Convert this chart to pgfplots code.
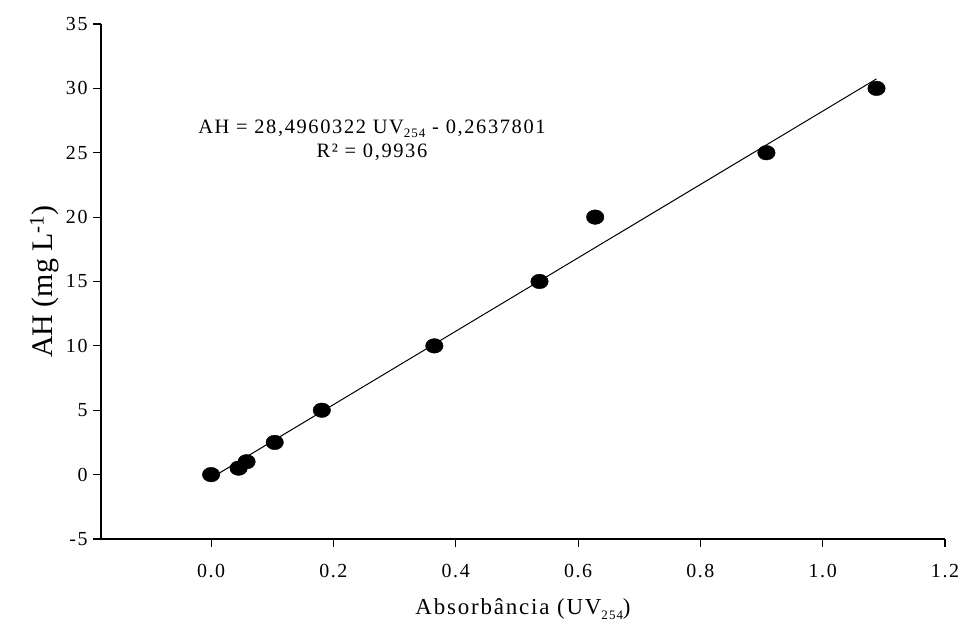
\documentclass[border=0pt]{standalone}
\usepackage{fontspec}
\setmainfont{Liberation Serif}
\newfontfamily\spaced{Liberation Serif}[LetterSpace=8]
\usepackage{pgfplots}
\pgfplotsset{compat=1.18}
\newcommand{\sub}[1]{\raisebox{-0.45ex}{\fontsize{13}{14}\selectfont #1}}
\begin{document}
\begin{tikzpicture}[x=1bp,y=1bp]
\useasboundingbox (0,0) rectangle (959,628);
\begin{axis}[
  at={(101bp,89bp)}, anchor=south west,
  width=844bp, height=515bp, scale only axis,
  xmin=-0.18, xmax=1.2, ymin=-5, ymax=35,
  axis x line*=bottom, axis y line*=left,
  axis line style={-, line width=1.3bp},
  tick align=outside, major tick length=8bp,
  tick style={black, line width=1.1bp},
  xtick={0,0.2,0.4,0.6,0.8,1.0,1.2},
  ytick={-5,0,5,10,15,20,25,30,35},
  /pgf/number format/assume math mode=true,
  x tick label style={/pgf/number format/.cd, fixed, fixed zerofill, precision=1, /tikz/.cd, font=\spaced\fontsize{20}{22}\selectfont, yshift=-14bp},
  y tick label style={font=\spaced\fontsize{20}{22}\selectfont, xshift=-2bp},
  xlabel={\spaced\fontsize{23}{26}\selectfont Absorbância (UV\sub{254})},
  xlabel style={yshift=-14bp},
  ylabel={\fontsize{30}{34}\selectfont AH (mg L\textsuperscript{-1})},
  ylabel style={yshift=0bp},
  clip=false,
]
\addplot[black, line width=1bp, no marks] coordinates {(0,-0.2637801) (1.088,30.7399)};
\addplot[only marks, mark=*, mark size=7.3bp, mark options={fill=black, draw=black, xscale=1.2}] coordinates {
(0,0) (0.045,0.5) (0.058,1) (0.104,2.5) (0.181,5) (0.365,10) (0.537,15) (0.628,20) (0.908,25) (1.088,30)};
\node[align=center, font=\spaced\fontsize{20.5}{24}\selectfont] at (axis cs:0.263,26.0) {AH = 28,4960322 UV\sub{254} - 0,2637801\\R² = 0,9936};
\end{axis}
\end{tikzpicture}
\end{document}
